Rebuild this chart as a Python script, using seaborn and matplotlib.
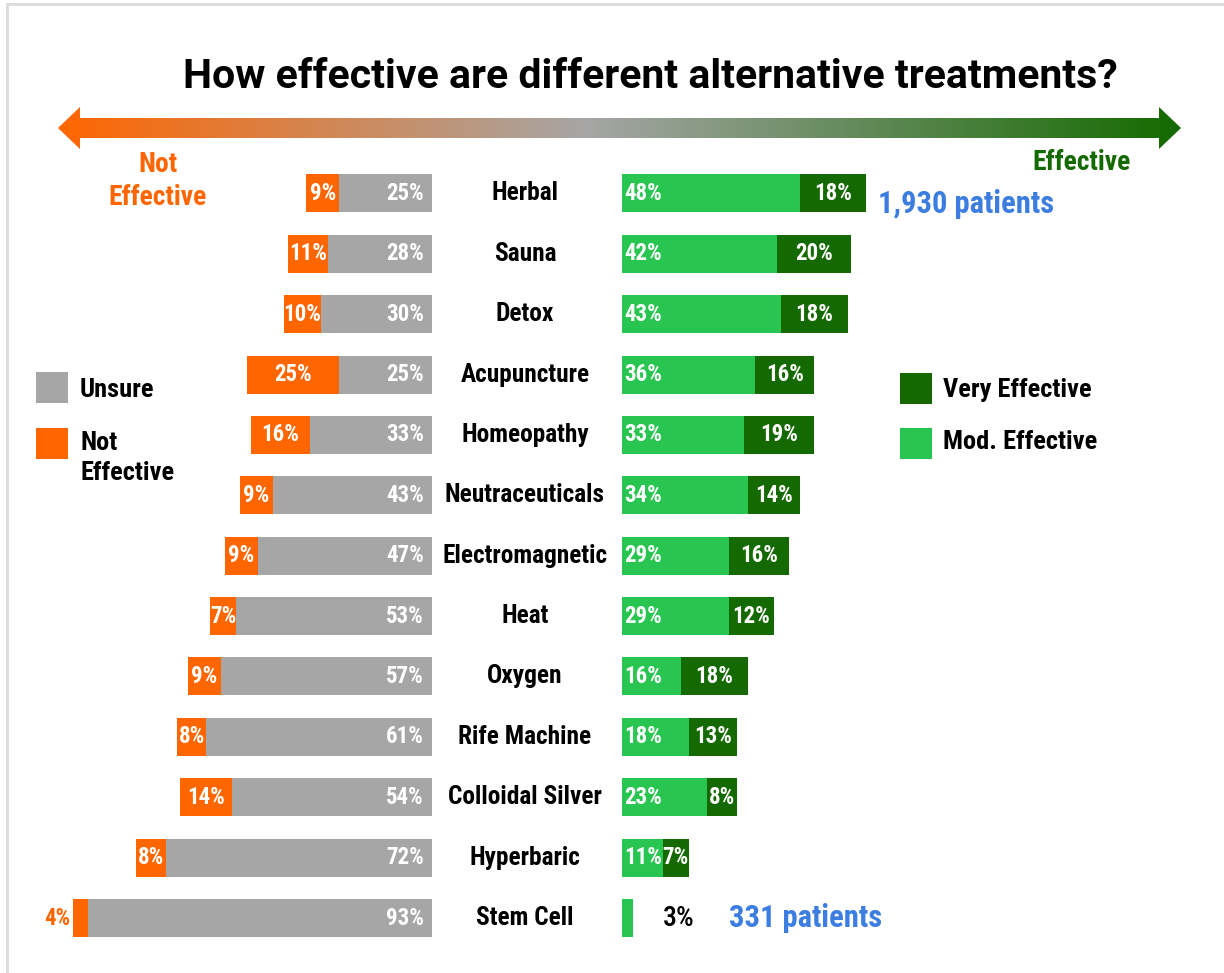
import numpy as np
import pandas as pd
import matplotlib
matplotlib.use("Agg")
import matplotlib.pyplot as plt
import matplotlib.font_manager as fm
import matplotlib.transforms as mtransforms
from matplotlib.colors import LinearSegmentedColormap
from matplotlib.patches import Polygon, Rectangle
import seaborn as sns

# data
treatments = ["Herbal", "Sauna", "Detox", "Acupuncture", "Homeopathy",
              "Neutraceuticals", "Electromagnetic", "Heat", "Oxygen",
              "Rife Machine", "Colloidal Silver", "Hyperbaric", "Stem Cell"]
unsure = [25, 28, 30, 25, 33, 43, 47, 53, 57, 61, 54, 72, 93]
not_effective = [9, 11, 10, 25, 16, 9, 9, 7, 9, 8, 14, 8, 4]
mod_effective = [48, 42, 43, 36, 33, 34, 29, 29, 16, 18, 23, 11, 3]
very_effective = [18, 20, 18, 16, 19, 14, 16, 12, 18, 13, 8, 7, 0]
patients_top = "1,930 patients"
patients_bottom = "331 patients"

ORANGE = "#FF6600"
GRAY = "#A6A6A6"
LGREEN = "#28C650"
DGREEN = "#146A00"
BLUE = "#3B7DE0"

sns.set_theme(style="white")
names = {f.name for f in fm.fontManager.ttflist}
FONT = "Roboto"
for cand in ["Roboto Condensed", "Liberation Sans Narrow"]:
    if cand in names:
        FONT = cand
        break
plt.rcParams["font.family"] = [FONT, "DejaVu Sans"]
plt.rcParams["text.color"] = "black"

W, H = 1224, 973
fig = plt.figure(figsize=(W / 100, H / 100), dpi=100)
fig.patch.set_facecolor("white")

# background axes in pixel coords
bg = fig.add_axes([0, 0, 1, 1])
bg.set_xlim(0, W)
bg.set_ylim(H, 0)
bg.axis("off")

# frame lines top / left
bg.add_patch(Rectangle((6, 3), W, 3, color="#DDDDDD", lw=0))
bg.add_patch(Rectangle((6, 3), 3, H, color="#DDDDDD", lw=0))

# title
bg.text(650, 77, "How effective are different alternative treatments?",
        ha="center", va="center", fontsize=29.5, fontweight="bold",
        family=["Roboto", "DejaVu Sans"], color="black")

# gradient arrow
cmap = LinearSegmentedColormap.from_list(
    "arr", [(0, ORANGE), (0.47, GRAY), (1, DGREEN)])
grad = np.linspace(0, 1, 512).reshape(1, -1)
x0, x1, yc = 58, 1181, 128
arrow = Polygon([(x0, yc), (x0 + 22, yc - 21), (x0 + 22, yc - 10),
                 (x1 - 22, yc - 10), (x1 - 22, yc - 21), (x1, yc),
                 (x1 - 22, yc + 21), (x1 - 22, yc + 10), (x0 + 22, yc + 10),
                 (x0 + 22, yc + 21)], closed=True, fc="none", ec="none")
bg.add_patch(arrow)
im = bg.imshow(grad, cmap=cmap, extent=[x0, x1, yc + 22, yc - 22],
               aspect="auto", interpolation="bilinear")
im.set_clip_path(arrow)

bg.text(158, 181, "Not\nEffective", ha="center", va="center", fontsize=19.8,
        fontweight="bold", color=ORANGE, linespacing=1.3)
bg.text(1131, 162, "Effective", ha="right", va="center", fontsize=19.8,
        fontweight="bold", color=DGREEN)

# legends
bg.add_patch(Rectangle((36, 372), 32, 31, color=GRAY, lw=0))
bg.text(80, 390, "Unsure", va="center", fontsize=19, fontweight="bold")
bg.add_patch(Rectangle((36, 428), 32, 31, color=ORANGE, lw=0))
bg.text(80, 458, "Not\nEffective", va="center", fontsize=19,
        fontweight="bold", linespacing=1.3)
bg.add_patch(Rectangle((900, 373), 32, 31, color=DGREEN, lw=0))
bg.text(943, 390, "Very Effective", va="center", fontsize=19, fontweight="bold")
bg.add_patch(Rectangle((900, 428), 32, 31, color=LGREEN, lw=0))
bg.text(943, 442, "Mod. Effective", va="center", fontsize=19, fontweight="bold")

# bar panels
scale = 3.7  # px per percent
ax_bottom = 1 - 948.2 / H
ax_height = 785 / H
axL = fig.add_axes([(432 - 100 * scale) / W, ax_bottom, 100 * scale / W, ax_height])
axR = fig.add_axes([622 / W, ax_bottom, 100 * scale / W, ax_height])

df = pd.DataFrame({"treatment": treatments, "unsure": unsure,
                   "not_eff": not_effective, "mod": mod_effective,
                   "very": very_effective})
df["left_total"] = df["unsure"] + df["not_eff"]
df["right_total"] = df["mod"] + df["very"]

bw = 0.63
sns.barplot(data=df, x="left_total", y="treatment", color=ORANGE, ax=axL,
            orient="h", width=bw, saturation=1, linewidth=0)
sns.barplot(data=df, x="unsure", y="treatment", color=GRAY, ax=axL,
            orient="h", width=bw, saturation=1, linewidth=0)
sns.barplot(data=df, x="right_total", y="treatment", color=DGREEN, ax=axR,
            orient="h", width=bw, saturation=1, linewidth=0)
sns.barplot(data=df, x="mod", y="treatment", color=LGREEN, ax=axR,
            orient="h", width=bw, saturation=1, linewidth=0)

for ax in (axL, axR):
    ax.set_ylim(len(treatments) - 0.5, -0.5)
    ax.axis("off")
axL.set_xlim(100, 0)
axR.set_xlim(0, 100)

FS = 16.5
lab = dict(fontsize=FS, fontweight="bold", color="white", va="center")
for i, row in df.iterrows():
    axL.text(2.2, i, f"{row.unsure}%", ha="right", **lab)
    if row.not_eff >= 6:
        axL.text(row.unsure + row.not_eff / 2, i, f"{row.not_eff}%",
                 ha="center", **lab)
    else:
        # too thin for the label: put it just outside the bar
        axL.text(row.unsure + row.not_eff + 0.8, i, f"{row.not_eff}%",
                 ha="right", fontsize=FS, fontweight="bold",
                 color=ORANGE, va="center")
    if row.very > 0:
        axR.text(0.6, i, f"{row['mod']}%", ha="left", **lab)
        axR.text(row["mod"] + row.very / 2, i, f"{row.very}%", ha="center", **lab)
    else:
        axR.text(row["mod"] + 12.3, i, f"{row['mod']}%", ha="center",
                 fontsize=20, fontweight="medium", color="black", va="center")

# category labels in the middle
tr = mtransforms.blended_transform_factory(bg.transData, axR.transData)
for i, name in enumerate(treatments):
    bg.text(525, i, name, transform=tr, ha="center", va="center",
            fontsize=18.3, fontweight="bold", color="black")

# patient counts
axR.text(df["right_total"].iloc[0] + 3.2, 0.18, patients_top, ha="left",
         va="center", fontsize=22, fontweight="bold", color=BLUE)
axR.text(29, len(treatments) - 1, patients_bottom, ha="left",
         va="center", fontsize=22, fontweight="bold", color=BLUE)

fig.savefig("out.png", dpi=100, facecolor="white")
